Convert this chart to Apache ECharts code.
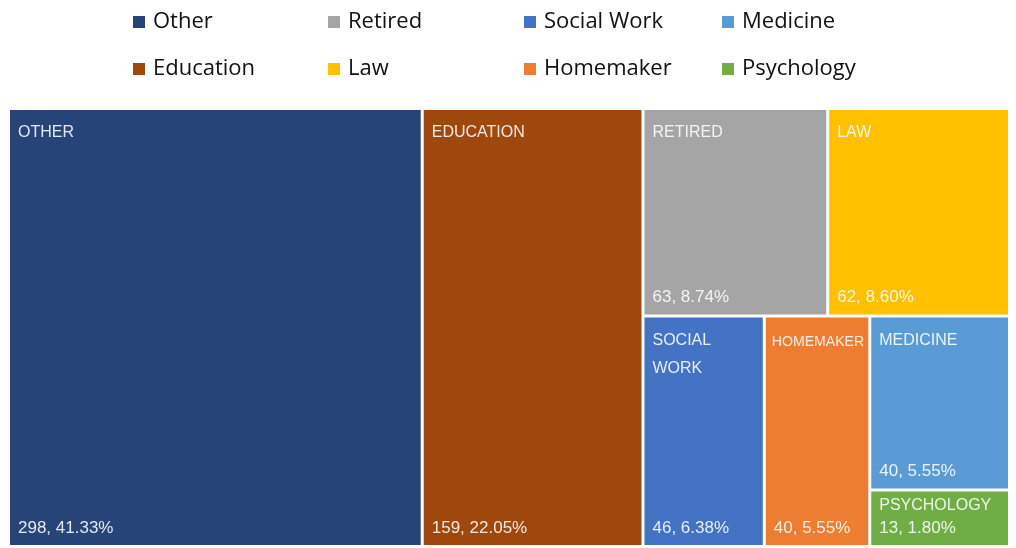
<!DOCTYPE html>
<html>
<head>
<meta charset="utf-8">
<script src="https://cdn.jsdelivr.net/npm/echarts@6/dist/echarts.min.js"></script>
<style>
  html, body { margin: 0; padding: 0; background: #ffffff; }
  #chart { width: 1016px; height: 548px; }
</style>
</head>
<body>
<div id="chart"></div>
<script>
// Occupations of respondents
const categories = ['Other', 'Education', 'Retired', 'Law', 'Social Work', 'Homemaker', 'Medicine', 'Psychology'];
const cellTitles = ['OTHER', 'EDUCATION', 'RETIRED', 'LAW', 'SOCIAL\nWORK', 'HOMEMAKER', 'MEDICINE', 'PSYCHOLOGY'];
const counts = [298, 159, 63, 62, 46, 40, 40, 13];
const colors = ['#264478', '#9E480E', '#A5A5A5', '#FFC000', '#4472C4', '#ED7D31', '#5B9BD5', '#70AD47'];

// legend columns (each column holds two entries, top and bottom)
const legendColumns = [
  ['Other', 'Education'],
  ['Retired', 'Law'],
  ['Social Work', 'Homemaker'],
  ['Medicine', 'Psychology']
];

const total = counts.reduce((a, b) => a + b, 0);
const pct = v => (v / total * 100).toFixed(2) + '%';

const chart = echarts.init(document.getElementById('chart'), null, { renderer: 'canvas' });

const box = { left: 10, top: 110, width: 998, height: 435 };
const smallCell = v => v / total < 0.03;
const titleFont = { family: 'Liberation Sans', size: 16 };
const titlePadX = 8;

const nameData = categories.map((c, i) => ({
  name: c,
  value: counts[i],
  title: cellTitles[i],
  itemStyle: { color: colors[i] },
  label: smallCell(counts[i]) ? { padding: [0, titlePadX, 0, titlePadX] } : {}
}));

const valueData = categories.map((c, i) => ({
  name: c,
  value: counts[i],
  itemStyle: { color: 'rgba(0,0,0,0)' }
}));

const treemapBase = Object.assign({
  type: 'treemap',
  roam: false,
  nodeClick: false,
  sort: false,
  squareRatio: 0.75,
  breadcrumb: { show: false },
  animation: false,
  levels: [{ itemStyle: { borderWidth: 0, gapWidth: 3, borderColor: '#fff' } }]
}, box);

const legendFont = { color: '#111', fontSize: 22, fontFamily: 'Open Sans', lineHeight: 22, padding: [0, 0, 0, 3] };
const legendLefts = [133, 328, 524, 722];

const option = {
  backgroundColor: '#ffffff',
  legend: legendColumns.map((col, i) => ({
    orient: 'vertical',
    left: legendLefts[i],
    top: 11,
    padding: 0,
    itemWidth: 12,
    itemHeight: 12,
    itemGap: 25,
    icon: 'rect',
    selectedMode: false,
    data: col,
    textStyle: legendFont
  })),
  series: [
    Object.assign({}, treemapBase, {
      name: 'Occupation',
      data: nameData,
      label: {
        show: true,
        position: 'insideTopLeft',
        color: 'rgba(255,255,255,0.88)',
        fontFamily: titleFont.family,
        fontSize: titleFont.size,
        lineHeight: 28,
        padding: [9, titlePadX, 0, titlePadX],
        overflow: 'none',
        formatter: p => p.data.title
      }
    }),
    Object.assign({}, treemapBase, {
      name: 'Count',
      silent: true,
      data: valueData,
      itemStyle: { borderWidth: 0 },
      label: {
        show: true,
        position: 'insideBottomLeft',
        color: 'rgba(255,255,255,0.88)',
        fontFamily: 'Liberation Sans',
        fontSize: 17,
        lineHeight: 20,
        padding: [0, 8, 7, 8],
        overflow: 'none',
        formatter: p => p.value + ', ' + pct(p.value)
      }
    })
  ].concat(categories.map((c, i) => ({
    // swatch carriers for the legend entries
    type: 'pie',
    name: c,
    data: [],
    showEmptyCircle: false,
    itemStyle: { color: colors[i] }
  })))
};

chart.setOption(option);

// Shrink a cell title when its widest line would run past the cell edge.
const ctx = document.createElement('canvas').getContext('2d');
ctx.font = titleFont.size + 'px "' + titleFont.family + '"';
const cells = chart.getModel().getSeriesByIndex(0).getData().tree.root.children;
let resized = false;
nameData.forEach((d, i) => {
  const layout = cells[i] && cells[i].getLayout();
  if (!layout) return;
  const room = layout.width - titlePadX - 2;
  const widest = Math.max.apply(null, d.title.split('\n').map(t => ctx.measureText(t).width));
  if (widest > room) {
    d.label = Object.assign({}, d.label, {
      fontSize: Math.floor(titleFont.size * room / widest * 10) / 10,
      padding: [11, 2, 0, titlePadX - 2]
    });
    resized = true;
  }
});
if (resized) {
  chart.setOption({ series: [{ data: nameData }] });
}
</script>
</body>
</html>
